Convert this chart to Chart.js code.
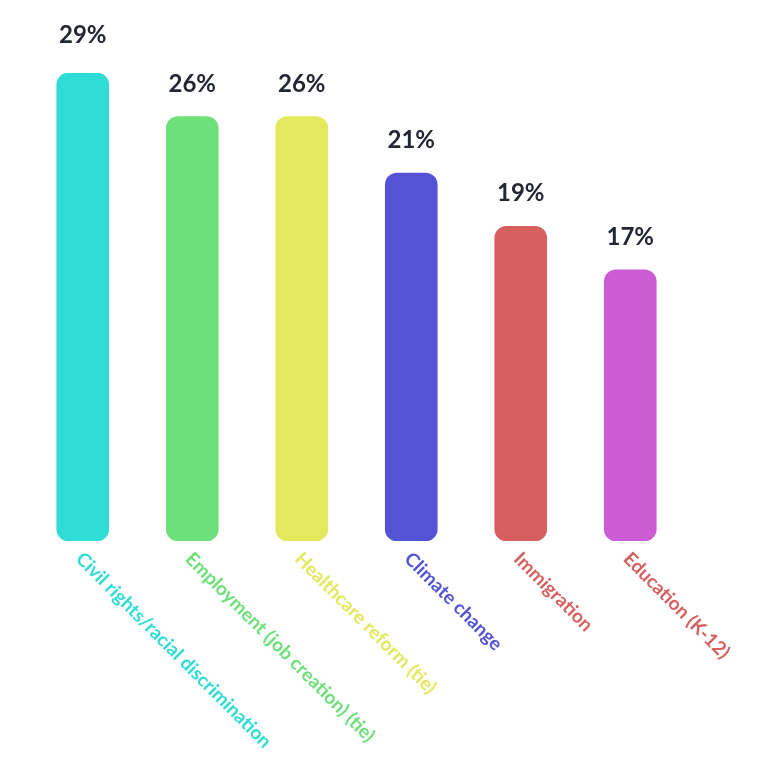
<!DOCTYPE html>
<html lang="en">
<head>
  <meta charset="UTF-8">
  <title>Top issues</title>
  <script src="https://cdn.jsdelivr.net/npm/chart.js"></script>
  <style>
    html, body { margin: 0; padding: 0; background: #fff; }
    #wrap { width: 770px; height: 772px; }
  </style>
</head>
<body>
  <div id="wrap"><canvas id="grafico"></canvas></div>

  <script>
    // data
    const categorias = ['Civil rights/racial discrimination', 'Employment (job creation) (tie)', 'Healthcare reform (tie)', 'Climate change', 'Immigration', 'Education (K-12)'];
    const alturas = [29, 26.3, 26.3, 22.8, 19.5, 16.8];   // bar heights as drawn
    const rotulos = ['29%', '26%', '26%', '21%', '19%', '17%'];
    const coresBarra = ['#2fdcd6', '#6ee07a', '#e4e85c', '#5353d4', '#d65f5f', '#cb5cd4'];
    const coresTexto = ['#2fdcd6', '#6ee07a', '#e4e85c', '#5353d4', '#d65f5f', '#d65f5f'];

    const rotulosPlugin = {
      id: 'rotulos',
      afterDatasetsDraw(chart) {
        const c = chart.ctx;
        const meta = chart.getDatasetMeta(0);
        const xs = chart.scales.x;
        const base = chart.scales.y.getPixelForValue(0);
        c.save();
        meta.data.forEach((bar, i) => {
          c.fillStyle = '#232733';
          c.font = 'bold 24px Lato';
          c.textAlign = 'center';
          c.textBaseline = 'alphabetic';
          c.fillText(rotulos[i], bar.x, bar.y - (i === 0 ? 30 : 25));

          const x = xs.getPixelForValue(i);
          c.save();
          c.translate(x + 3, base + 8);
          c.rotate(Math.PI / 4);
          c.fillStyle = coresTexto[i];
          c.font = 'bold 19px Lato';
          c.textAlign = 'left';
          c.textBaseline = 'top';
          c.fillText(categorias[i], 0, 0);
          c.restore();
        });
        c.restore();
      }
    };

    new Chart(document.getElementById('grafico'), {
      type: 'bar',
      data: {
        labels: categorias,
        datasets: [{
          data: alturas,
          backgroundColor: coresBarra,
          borderRadius: 12,
          borderSkipped: false,
          barThickness: 52
        }]
      },
      options: {
        responsive: true,
        maintainAspectRatio: false,
        animation: false,
        layout: { padding: { left: 28, right: 85, top: 73, bottom: 231 } },
        plugins: { legend: { display: false }, tooltip: { enabled: false } },
        scales: {
          x: { display: false },
          y: { display: false, min: 0, max: 29 }
        }
      },
      plugins: [rotulosPlugin]
    });
  </script>
</body>
</html>
